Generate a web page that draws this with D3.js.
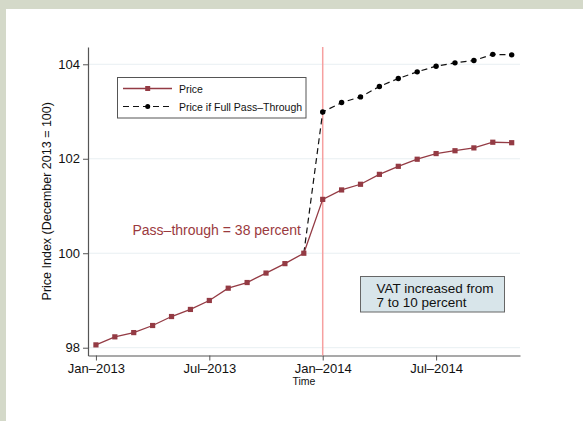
<!DOCTYPE html>
<html>
<head>
<meta charset="utf-8">
<script src="https://cdn.jsdelivr.net/npm/d3@7"></script>
<style>
  body { margin: 0; background: #d4d9c9; }
  svg { display: block; font-family: "Liberation Sans", Arial, Helvetica, sans-serif; }
</style>
</head>
<body>
<svg id="chart" width="583" height="421"></svg>
<script>
// monthly index: 0 = Jan-2013
const priceMonths = d3.range(0, 23);
const priceValues = [98.06, 98.23, 98.32, 98.47, 98.66, 98.81, 99.00, 99.26, 99.38, 99.58, 99.78, 100.00,
                     101.14, 101.34, 101.46, 101.67, 101.84, 101.99, 102.11, 102.17, 102.23, 102.35, 102.34];
const passMonths = d3.range(11, 23);
const passValues = [100.00, 102.99, 103.19, 103.31, 103.53, 103.70, 103.84, 103.96, 104.03, 104.08, 104.21, 104.20];
const xTickMonths = [0, 6, 12, 18];
const xTickLabels = ["Jan\u20132013", "Jul\u20132013", "Jan\u20132014", "Jul\u20132014"];
const yTicks = [98, 100, 102, 104];
const vatMonth = 12;

const svg = d3.select("#chart");

// white panel
svg.append("rect")
    .attr("x", 6).attr("y", 9)
    .attr("width", 577).attr("height", 412)
    .attr("fill", "#fff");

const plotLeft = 88, plotRight = 520, plotTop = 47, plotBottom = 355.5;

const x = d3.scaleLinear()
    .domain([-0.42, 22.44])
    .range([plotLeft, plotRight]);

const y = d3.scaleLinear()
    .domain([97.835, 104.366])
    .range([plotBottom, plotTop]);

// gridlines
svg.append("g")
    .selectAll("line")
    .data(yTicks)
    .join("line")
    .attr("x1", plotLeft).attr("x2", plotRight)
    .attr("y1", d => y(d)).attr("y2", d => y(d))
    .attr("stroke", "#e8eff2")
    .attr("stroke-width", 1);

// axes
const yAxis = svg.append("g")
    .attr("transform", `translate(${plotLeft},0)`)
    .call(d3.axisLeft(y).tickValues(yTicks).tickFormat(d3.format("d"))
        .tickSize(5).tickPadding(3).tickSizeOuter(0));

const xAxis = svg.append("g")
    .attr("transform", `translate(0,${plotBottom})`)
    .call(d3.axisBottom(x).tickValues(xTickMonths)
        .tickFormat((d, i) => xTickLabels[i]).tickSize(5).tickPadding(3).tickSizeOuter(0));

[yAxis, xAxis].forEach(g => {
    g.select(".domain").attr("stroke", "#555").attr("stroke-width", 1.2);
    g.selectAll(".tick line").attr("stroke", "#555");
    g.selectAll(".tick text").attr("fill", "#111").style("font-size", "13px")
        .style("font-family", "'Liberation Sans', Arial, sans-serif");
});

// axis titles
svg.append("text")
    .attr("transform", `translate(50.5,${(plotTop + plotBottom) / 2}) rotate(-90)`)
    .attr("text-anchor", "middle")
    .attr("font-size", 12.5)
    .attr("fill", "#111")
    .text("Price Index (December 2013 = 100)");

svg.append("text")
    .attr("x", (plotLeft + plotRight) / 2).attr("y", 385)
    .attr("text-anchor", "middle")
    .attr("font-size", 10.5)
    .attr("fill", "#111")
    .text("Time");

// VAT vertical line
svg.append("line")
    .attr("x1", x(vatMonth)).attr("x2", x(vatMonth))
    .attr("y1", plotTop).attr("y2", plotBottom)
    .attr("stroke", "#f6a0a0")
    .attr("stroke-width", 1.5);

const priceColor = "#943b44";

// full pass-through line
svg.append("path")
    .datum(passMonths.map((m, i) => [m, passValues[i]]))
    .attr("fill", "none")
    .attr("stroke", "#111")
    .attr("stroke-width", 1.2)
    .attr("stroke-dasharray", "6,4")
    .attr("d", d3.line().x(d => x(d[0])).y(d => y(d[1])));

svg.append("g")
    .selectAll("circle")
    .data(passMonths.slice(1).map((m, i) => [m, passValues[i + 1]]))
    .join("circle")
    .attr("cx", d => x(d[0])).attr("cy", d => y(d[1]))
    .attr("r", 2.7)
    .attr("fill", "#000");

// price line
svg.append("path")
    .datum(priceMonths.map((m, i) => [m, priceValues[i]]))
    .attr("fill", "none")
    .attr("stroke", priceColor)
    .attr("stroke-width", 1.3)
    .attr("d", d3.line().x(d => x(d[0])).y(d => y(d[1])));

svg.append("g")
    .selectAll("rect")
    .data(priceMonths.map((m, i) => [m, priceValues[i]]))
    .join("rect")
    .attr("x", d => x(d[0]) - 2.6).attr("y", d => y(d[1]) - 2.6)
    .attr("width", 5.2).attr("height", 5.2)
    .attr("fill", priceColor);

// legend
const legend = svg.append("g");
legend.append("rect")
    .attr("x", 117.5).attr("y", 77.5)
    .attr("width", 188.5).attr("height", 40.5)
    .attr("fill", "#fff")
    .attr("stroke", "#555")
    .attr("stroke-width", 1);

legend.append("line")
    .attr("x1", 123).attr("x2", 172).attr("y1", 88.5).attr("y2", 88.5)
    .attr("stroke", priceColor).attr("stroke-width", 1.3);
legend.append("rect")
    .attr("x", 145.2).attr("y", 86).attr("width", 5).attr("height", 5)
    .attr("fill", priceColor);
legend.append("text")
    .attr("x", 179).attr("y", 92.5)
    .attr("font-size", 10.5).attr("fill", "#111")
    .text("Price");

legend.append("line")
    .attr("x1", 123).attr("x2", 172).attr("y1", 106.5).attr("y2", 106.5)
    .attr("stroke", "#111").attr("stroke-width", 1.2).attr("stroke-dasharray", "6,4");
legend.append("circle")
    .attr("cx", 147.7).attr("cy", 106.5).attr("r", 2.5)
    .attr("fill", "#000");
legend.append("text")
    .attr("x", 179).attr("y", 110.5)
    .attr("font-size", 10.5).attr("fill", "#111")
    .text("Price if Full Pass\u2013Through");

// annotation
svg.append("text")
    .attr("x", 132.5).attr("y", 235)
    .attr("font-size", 14)
    .attr("fill", "#9b3a3e")
    .text("Pass\u2013through = 38 percent");

// VAT box
svg.append("rect")
    .attr("x", 360.5).attr("y", 276.5)
    .attr("width", 144).attr("height", 35.5)
    .attr("fill", "#d8e5ea")
    .attr("stroke", "#666")
    .attr("stroke-width", 1);

const vatText = svg.append("text")
    .attr("font-size", 13.5)
    .attr("fill", "#111");
vatText.append("tspan").attr("x", 376.5).attr("y", 292.5).text("VAT increased from");
vatText.append("tspan").attr("x", 376.5).attr("y", 306.5).text("7 to 10 percent");
</script>
</body>
</html>
